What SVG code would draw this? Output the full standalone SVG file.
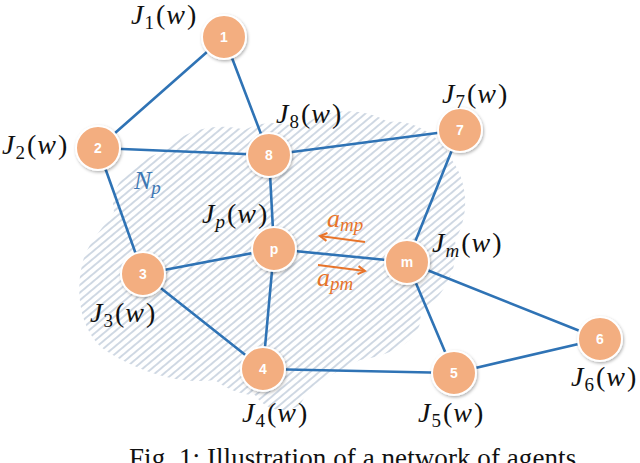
<svg xmlns="http://www.w3.org/2000/svg" width="640" height="463" viewBox="0 0 640 463">
<style>
.edge{stroke:#2F73B5;stroke-width:2.6;fill:none;stroke-linecap:round}
.node circle{fill:#F3AE80;stroke:#ffffff;stroke-width:2;filter:url(#sh)}
.node text{font-family:"Liberation Sans",Arial,sans-serif;font-weight:bold;font-size:14px;fill:#ffffff;text-anchor:middle}
.lbl{font-family:"Liberation Serif","Times New Roman",serif;font-size:28px;fill:#111}
.it{font-style:italic}
.sub{font-size:19px}
.or{fill:#E8742A}
.arr{stroke:#E8742A;stroke-width:2;fill:none;marker-end:url(#ah)}
</style>
<defs>
<pattern id="hatch" patternUnits="userSpaceOnUse" width="10" height="5.8" patternTransform="rotate(-40)">
<line x1="0" y1="2.9" x2="10" y2="2.9" stroke="#C9D3DF" stroke-width="1.7"/>
</pattern>
<filter id="sh" x="-30%" y="-30%" width="160%" height="160%">
<feDropShadow dx="1" dy="1.5" stdDeviation="1.5" flood-color="#000" flood-opacity="0.3"/>
</filter>
<marker id="ah" markerWidth="12" markerHeight="12" refX="10" refY="6" orient="auto" markerUnits="userSpaceOnUse">
<path d="M3,2 L10,6 L3,10" fill="none" stroke="#E8742A" stroke-width="2"/>
</marker>
</defs>
<rect width="640" height="463" fill="#ffffff"/>
<path id="cloud" fill="url(#hatch)" d="M114,212 C108,185 132,162 162,152 C178,134 212,120 245,130 C265,118 290,124 300,128 C322,108 362,106 388,122 C412,118 442,136 452,160 C470,185 468,220 455,240 C460,272 440,300 420,312 C425,338 395,355 360,360 C335,372 310,385 300,405 C285,415 265,410 255,395 C240,395 225,388 215,380 C180,385 140,372 108,352 C84,338 74,300 82,265 C86,245 100,232 114,212 Z"/>
<g id="connectors">
<line class="edge" x1="224" y1="37" x2="98" y2="148"/>
<line class="edge" x1="224" y1="37" x2="269" y2="155"/>
<line class="edge" x1="98" y1="148" x2="269" y2="155"/>
<line class="edge" x1="98" y1="148" x2="143" y2="274"/>
<line class="edge" x1="269" y1="155" x2="460" y2="130"/>
<line class="edge" x1="269" y1="155" x2="274" y2="249"/>
<line class="edge" x1="274" y1="249" x2="143" y2="274"/>
<line class="edge" x1="274" y1="249" x2="407" y2="262"/>
<line class="edge" x1="274" y1="249" x2="263" y2="369"/>
<line class="edge" x1="143" y1="274" x2="263" y2="369"/>
<line class="edge" x1="263" y1="369" x2="454" y2="373"/>
<line class="edge" x1="460" y1="130" x2="407" y2="262"/>
<line class="edge" x1="407" y1="262" x2="454" y2="373"/>
<line class="edge" x1="407" y1="262" x2="600" y2="339"/>
<line class="edge" x1="454" y1="373" x2="600" y2="339"/>
<line class="arr" x1="365" y1="242" x2="320" y2="236"/>
<line class="arr" x1="318" y1="265" x2="365" y2="271"/>
</g>
<g id="n1" class="node"><circle cx="224" cy="37" r="22"/><text x="224" y="42">1</text></g>
<g id="n2" class="node"><circle cx="98" cy="148" r="22"/><text x="98" y="153">2</text></g>
<g id="n8" class="node"><circle cx="269" cy="155" r="22"/><text x="269" y="160">8</text></g>
<g id="n7" class="node"><circle cx="460" cy="130" r="22"/><text x="460" y="135">7</text></g>
<g id="np" class="node"><circle cx="274" cy="249" r="22"/><text x="274" y="254">p</text></g>
<g id="nm" class="node"><circle cx="407" cy="262" r="22"/><text x="407" y="267">m</text></g>
<g id="n3" class="node"><circle cx="143" cy="274" r="22"/><text x="143" y="279">3</text></g>
<g id="n4" class="node"><circle cx="263" cy="369" r="22"/><text x="263" y="374">4</text></g>
<g id="n5" class="node"><circle cx="454" cy="373" r="22"/><text x="454" y="378">5</text></g>
<g id="n6" class="node"><circle cx="600" cy="339" r="22"/><text x="600" y="344">6</text></g>
<g id="labels">
<text class="lbl" x="131" y="24"><tspan class="it">J</tspan><tspan class="sub" dx="1" dy="5">1</tspan><tspan dx="2" dy="-5">(</tspan><tspan class="it" dx="1">w</tspan><tspan dx="2">)</tspan></text>
<text class="lbl" x="2" y="154"><tspan class="it">J</tspan><tspan class="sub" dx="1" dy="5">2</tspan><tspan dx="2" dy="-5">(</tspan><tspan class="it" dx="1">w</tspan><tspan dx="2">)</tspan></text>
<text class="lbl" x="276" y="123"><tspan class="it">J</tspan><tspan class="sub" dx="1" dy="5">8</tspan><tspan dx="2" dy="-5">(</tspan><tspan class="it" dx="1">w</tspan><tspan dx="2">)</tspan></text>
<text class="lbl" x="442" y="103"><tspan class="it">J</tspan><tspan class="sub" dx="1" dy="5">7</tspan><tspan dx="2" dy="-5">(</tspan><tspan class="it" dx="1">w</tspan><tspan dx="2">)</tspan></text>
<text class="lbl" x="202" y="223"><tspan class="it">J</tspan><tspan class="sub it" dx="1" dy="5">p</tspan><tspan dx="2" dy="-5">(</tspan><tspan class="it" dx="1">w</tspan><tspan dx="2">)</tspan></text>
<text class="lbl" x="432" y="252"><tspan class="it">J</tspan><tspan class="sub it" dx="1" dy="5">m</tspan><tspan dx="2" dy="-5">(</tspan><tspan class="it" dx="1">w</tspan><tspan dx="2">)</tspan></text>
<text class="lbl" x="90" y="322"><tspan class="it">J</tspan><tspan class="sub" dx="1" dy="5">3</tspan><tspan dx="2" dy="-5">(</tspan><tspan class="it" dx="1">w</tspan><tspan dx="2">)</tspan></text>
<text class="lbl" x="242" y="422"><tspan class="it">J</tspan><tspan class="sub" dx="1" dy="5">4</tspan><tspan dx="2" dy="-5">(</tspan><tspan class="it" dx="1">w</tspan><tspan dx="2">)</tspan></text>
<text class="lbl" x="418" y="422"><tspan class="it">J</tspan><tspan class="sub" dx="1" dy="5">5</tspan><tspan dx="2" dy="-5">(</tspan><tspan class="it" dx="1">w</tspan><tspan dx="2">)</tspan></text>
<text class="lbl" x="571" y="386"><tspan class="it">J</tspan><tspan class="sub" dx="1" dy="5">6</tspan><tspan dx="2" dy="-5">(</tspan><tspan class="it" dx="1">w</tspan><tspan dx="2">)</tspan></text>
<text class="lbl" x="134" y="189" style="fill:#3D78B4;font-size:26px"><tspan class="it">N</tspan><tspan class="sub it" dy="5">p</tspan></text>
<text class="lbl or" x="327" y="227" style="font-size:26px"><tspan class="it">a</tspan><tspan class="sub it" dy="4">mp</tspan></text>
<text class="lbl or" x="317" y="286" style="font-size:26px"><tspan class="it">a</tspan><tspan class="sub it" dy="4">pm</tspan></text>
<text x="129" y="467" textLength="454" style="font-family:'Liberation Serif','Times New Roman',serif;font-size:27px;fill:#111">Fig. 1: Illustration of a network of agents.</text>
</g>
</svg>
